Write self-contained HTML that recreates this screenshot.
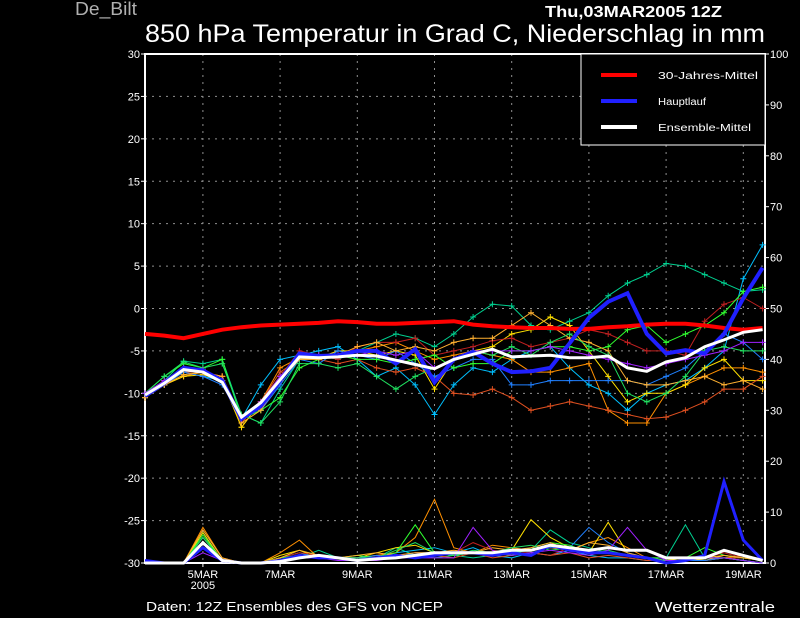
<!DOCTYPE html>
<html><head><meta charset="utf-8"><style>
html,body{margin:0;padding:0;background:#000;}
svg{display:block;font-family:"Liberation Sans",sans-serif;}
</style></head><body>
<svg id="chart" width="800" height="618" viewBox="0 0 800 618" xmlns="http://www.w3.org/2000/svg">
<rect x="0" y="0" width="800" height="618" fill="#000"/>
<text x="75" y="15" fill="#b0b0b0" font-size="18" textLength="62" lengthAdjust="spacingAndGlyphs">De_Bilt</text>
<text x="545" y="17" fill="#fff" font-size="16" font-weight="bold" textLength="177" lengthAdjust="spacingAndGlyphs">Thu,03MAR2005 12Z</text>
<text x="145" y="42" fill="#fff" font-size="25" textLength="620" lengthAdjust="spacingAndGlyphs">850 hPa Temperatur in Grad C, Niederschlag in mm</text>
<g id="grid"></g>
<g id="axes"></g>
<g id="series"></g>
<g id="legend">
<rect x="581" y="54" width="184" height="91" fill="#000" stroke="#fff" stroke-width="1"/>
<line x1="601" y1="75" x2="637" y2="75" stroke="#ff0000" stroke-width="4"/>
<text x="658" y="79" fill="#fff" font-size="10" textLength="100" lengthAdjust="spacingAndGlyphs">30-Jahres-Mittel</text>
<line x1="601" y1="101" x2="637" y2="101" stroke="#2020ff" stroke-width="4"/>
<text x="658" y="105" fill="#fff" font-size="10" textLength="48" lengthAdjust="spacingAndGlyphs">Hauptlauf</text>
<line x1="601" y1="127" x2="637" y2="127" stroke="#ffffff" stroke-width="4"/>
<text x="658" y="131" fill="#fff" font-size="10" textLength="93" lengthAdjust="spacingAndGlyphs">Ensemble-Mittel</text>
</g>
<text x="146" y="611" fill="#fff" font-size="13" textLength="297" lengthAdjust="spacingAndGlyphs">Daten: 12Z Ensembles des GFS von NCEP</text>
<text x="655" y="612" fill="#fff" font-size="15" textLength="120" lengthAdjust="spacingAndGlyphs">Wetterzentrale</text>
</svg>
<script>
const tempTicks=[30,25,20,15,10,5,0,-5,-10,-15,-20,-25,-30];
const precipTicks=[100,90,80,70,60,50,40,30,20,10,0];
const dateLabels=["5MAR","7MAR","9MAR","11MAR","13MAR","15MAR","17MAR","19MAR"];
const dateDays=[1.5,3.5,5.5,7.5,9.5,11.5,13.5,15.5];
const climTemp=[-3.0,-3.2,-3.5,-3.0,-2.5,-2.2,-2.0,-1.9,-1.8,-1.7,-1.5,-1.6,-1.8,-1.8,-1.7,-1.6,-1.5,-1.9,-2.1,-2.2,-2.3,-2.3,-2.4,-2.4,-2.2,-2.1,-1.9,-1.8,-1.8,-2.0,-2.3,-2.5,-2.3];
const meanTemp=[-10.2,-8.8,-7.2,-7.5,-8.7,-12.8,-11.1,-8.4,-5.7,-5.8,-5.7,-5.5,-5.6,-6.1,-6.6,-7.1,-6.0,-5.4,-4.8,-5.7,-5.6,-5.5,-5.8,-5.8,-5.6,-7.0,-7.4,-6.3,-5.8,-4.5,-3.7,-2.8,-2.5];
const mainTemp=[-10.3,-8.8,-7.0,-7.3,-8.5,-13.0,-11.5,-8.5,-5.3,-5.6,-5.5,-5.0,-5.0,-6.5,-4.8,-8.7,-6.0,-5.1,-6.5,-7.5,-7.4,-7.0,-4.1,-1.1,0.8,1.8,-3.0,-5.3,-4.9,-5.3,-3.0,1.2,4.8];
const meanPrecip=[0,0,0,4,0.5,0,0,0.3,1,1.5,1,0.5,0.8,1,1.5,2,2,2,2,2.5,2.5,3.5,3,2.5,3,2.5,2.5,1,1,1,2.5,1.5,0.5];
const mainPrecip=[0.5,0,0,3,0.5,0,0,0.5,1.5,1,1,0.5,1,1.5,1,1.5,2,2,1.5,2,1.5,3.5,2.5,2,2,1.5,1,0,0.5,1.5,16,4.5,0.5];
const memberColors=["#00d090","#00c0ff","#ff9000","#ffe000","#c02020","#e05020","#2080ff","#30ff30","#ffb030","#20e060","#a020ff"];
const m1T=[-10,-8.5,-6.2,-6.5,-6,-12.5,-13.5,-9.5,-6,-5.5,-6,-5,-4,-3,-3.5,-4.5,-3,-1,0.5,0.3,-2,-2.5,-1.5,-0.5,1.5,3,4,5.3,5,4,3,2,2.2];
const m1P=[0,0,0,6,0.5,0,0,0.5,1,2.5,1,0.5,1,3,1.5,1,1.5,1,1.5,2,2.5,6.5,4,3,2,1.5,1,1,7.5,1,1,0.5,0];
const m2T=[-10.5,-9,-7.5,-8,-8.5,-13,-9,-6,-5.5,-5,-4.5,-6,-8,-7,-9,-12.5,-9,-7,-7.5,-6,-5,-4.5,-7,-9,-10,-12,-10,-9,-8.5,-7,-5,3.5,7.5];
const m2P=[0,0,0,5,0.5,0,0,1,2,1,1,1,1,2,2.5,3,2,3,1.5,1,2,1.5,2.5,1.5,1,1,0.5,0.5,1,0.5,1,0.5,0];
const m3T=[-10.5,-9,-8,-7.5,-8,-14,-11,-7,-5.8,-6,-5.5,-5,-4.5,-4,-5,-6,-5.5,-5,-5.5,-6,-7.5,-7.5,-7,-6.5,-12,-13.5,-13.5,-10,-9,-8,-7,-7,-7.5];
const m3P=[0,0,0,7,1,0,0,2,4.5,1,1,1,1.5,2,5,12.5,3,2,3.5,3,2.5,3,2.5,4,5,3,1,0.5,0.5,0.5,1,1.5,0.5];
const m4T=[-10.5,-9,-8,-7.8,-8.5,-14,-11,-8,-6,-5.8,-5,-5,-5.5,-5,-5.5,-9.5,-6,-5,-4.5,-3,-2.5,-1,-2,-5,-8,-11,-10,-10,-9,-7,-6,-8.5,-8.5];
const m4P=[0,0,0,6,0.5,0,0,1.5,2.5,1,1,1,2,3,3.5,2,1.5,2,2,2.5,8.5,5,3,2,8,2,1,0.5,1,0.5,1.5,1,0.5];
const m5T=[-10,-8.5,-7,-7.5,-8,-13,-11.5,-8,-5,-5.5,-6,-4.5,-4,-4,-3.5,-5.5,-5,-4.5,-3.8,-3.5,-4.5,-4,-3.5,-2.5,-3,-4,-5,-5,-5.5,-1.5,0.5,1.3,0];
const m5P=[0,0,0,5,0.5,0,0,1,2,1.5,1,1,1,1.5,2,2,2,4,2.5,2,2,1.5,3,2,2,1.5,1,0.5,0.5,1,2,1,0.5];
const m6T=[-10.5,-8.5,-7.5,-7.5,-8,-13.5,-11,-7.5,-6,-6,-6.5,-6,-7,-7.5,-7,-8,-10,-10.2,-9.5,-10.5,-12,-11.5,-11,-11.5,-12,-12.5,-13,-12.8,-12,-11,-9.5,-9.5,-8];
const m6P=[0,0,0,4,0.5,0,0,0.5,1,1,1,0.5,1,1,1.5,1.5,1,2,1,1.5,2,1.5,2,1,1.5,1,0.5,0.5,0.5,0.5,1,1,0.5];
const m7T=[-10.5,-9,-7.5,-8,-9,-13,-12,-9,-6,-6.5,-5,-5.5,-6,-5,-6.5,-8,-7,-6,-6,-9,-9,-8.5,-8.5,-8.5,-8.5,-8.5,-9,-8,-7,-5,-3,-4,-6];
const m7P=[0,0,0,5,0.5,0,0,0.5,1,1,1,1,1.5,1,2,2,1.5,2,2,1.5,2,3,3,7,4,2,1,0.5,0.5,0.5,1,0.5,0];
const m8T=[-10,-8,-6.5,-7,-6,-13,-12,-10.5,-7,-6,-5.5,-6,-6,-6.5,-6,-5.5,-7,-6.5,-6.5,-5,-5,-4.5,-4.5,-5,-4.5,-2.5,-2,-4,-3,-2,-0.5,2,2.5];
const m8P=[0,0,0,5.5,0.5,0,0,1,1.5,1,1,1.5,1,2,7.5,2,1.5,2,2,1.5,3,4,3.5,2,2,1.5,1,1,1,3,1.5,1,0.5];
const m9T=[-10.5,-9,-7.8,-7.5,-8,-13.5,-12,-8.5,-6,-6,-5.5,-4.5,-4,-5,-4.5,-5,-4,-3.5,-3.5,-2,-0.5,-2,-3.5,-4,-5,-8.5,-9,-9,-8.5,-8,-9,-8.5,-9.5];
const m9P=[0,0,0,6.5,1,0,0,1,2.5,1.5,1,1.5,2,1.5,2,2,2.5,2,3,2.5,3,4,2.5,4,3.5,2,1,0.5,0.5,1,1.5,1,0.5];
const m10T=[-10,-8,-6.3,-7,-6.5,-12.5,-13.5,-11,-6.5,-6.5,-7,-6.5,-8,-9.5,-8,-7,-6,-5,-5.5,-4.5,-5.5,-4,-3,-4.5,-5.5,-10,-11,-10,-8,-5,-4.5,-5,-5];
const m10P=[0,0,0,5,0.5,0,0,0.5,1.5,1,1,1,1,2.5,4,2,1.5,2.5,2,3,3.5,2.5,3,2,2.5,1.5,1,0.5,0.5,1,1,0.5,0];
const m11T=[-10,-8.5,-7,-7.2,-8.5,-13,-11,-8,-5.5,-5.5,-5.5,-5.5,-5,-5.5,-5,-7,-6,-5,-5,-5,-5,-4.5,-5,-5.5,-6,-6.5,-7,-6.5,-6,-5.5,-5,-4,-4];
const m11P=[0,0,0,2,0.5,0,0,0.5,1,1,0.5,0.5,0.5,1,1,1,1,7,2.5,1.5,2,2.5,2,1.5,2.5,7,2.5,0.5,0.5,1,1,0.5,0];
const memberTemps=[m1T,m2T,m3T,m4T,m5T,m6T,m7T,m8T,m9T,m10T,m11T];
const memberPrecips=[m1P,m2P,m3P,m4P,m5P,m6P,m7P,m8P,m9P,m10P,m11P];

const NS="http://www.w3.org/2000/svg";
const X0=145,X1=765,Y0=54,Y1=563,DAYPX=38.6;
function xDay(d){return X0+d*DAYPX;}
function xIdx(i){return xDay(i*0.5);}
function yT(t){return Y1-(t+30)*(Y1-Y0)/60;}
function yP(p){return Y1-p*(Y1-Y0)/100;}
function mk(tag,attrs,parent){const e=document.createElementNS(NS,tag);for(const k in attrs)e.setAttribute(k,attrs[k]);parent.appendChild(e);return e;}
const grid=document.getElementById('grid'),axes=document.getElementById('axes'),series=document.getElementById('series');

tempTicks.forEach(t=>{
  const y=yT(t);
  if(t>-30&&t<30){const l=mk('line',{x1:X0,x2:X1,y1:y,y2:y,stroke:'#909090','stroke-width':1,'stroke-dasharray':'2,5'},grid);
  
  }
  const tk=mk('line',{x1:X0-4,x2:X0,y1:y,y2:y,stroke:'#fff','stroke-width':1},axes);
  
  
  const tx=mk('text',{x:X0-5,y:y+4,fill:'#fff','font-size':11,'text-anchor':'end'},axes);
  tx.textContent=String(t);
  
  
});
precipTicks.forEach(p=>{
  const y=yP(p);
  const tk=mk('line',{x1:X1,x2:X1+4,y1:y,y2:y,stroke:'#fff','stroke-width':1},axes);
  
  
  const tx=mk('text',{x:X1+5,y:y+4,fill:'#fff','font-size':11},axes);
  tx.textContent=String(p);
  
  
});
dateLabels.forEach((lab,i)=>{
  const x=xDay(dateDays[i]);
  const l=mk('line',{x1:x,x2:x,y1:Y0,y2:Y1,stroke:'#909090','stroke-width':1,'stroke-dasharray':'2,5'},grid);
  
  
  const tk=mk('line',{x1:x,x2:x,y1:Y1,y2:Y1+4,stroke:'#fff','stroke-width':1},axes);
  
  
  const tx=mk('text',{x:x,y:578,fill:'#fff','font-size':11,'text-anchor':'middle'},axes);
  tx.textContent=lab;
  
  
});
const yr=mk('text',{x:xDay(dateDays[0]),y:589,fill:'#fff','font-size':11,'text-anchor':'middle'},axes);
yr.textContent='2005';


const frame=mk('rect',{x:X0,y:Y0,width:X1-X0,height:Y1-Y0,fill:'none',stroke:'#fff','stroke-width':2},axes);



function pts(arr,yf){return arr.map((v,i)=>xIdx(i).toFixed(1)+','+yf(v).toFixed(1)).join(' ');}
memberTemps.forEach((arr,m)=>{
  const c=memberColors[m];
  const pl=mk('polyline',{points:pts(memberPrecips[m],yP),fill:'none',stroke:c,'stroke-width':1},series);
  
  
  const l=mk('polyline',{points:pts(arr,yT),fill:'none',stroke:c,'stroke-width':1},series);
  
  
  let d='';
  arr.forEach((v,i)=>{const x=xIdx(i),y=yT(v);d+='M'+(x-3)+','+y+'h6M'+x+','+(y-3)+'v6';});
  const p=mk('path',{d:d,stroke:c,'stroke-width':1,fill:'none'},series);
  
  
});
const cl=mk('polyline',{points:pts(climTemp,yT),fill:'none',stroke:'#ff0000','stroke-width':4},series);


const mp=mk('polyline',{points:pts(mainPrecip,yP),fill:'none',stroke:'#2020ff','stroke-width':3},series);


const ml=mk('polyline',{points:pts(mainTemp,yT),fill:'none',stroke:'#2020ff','stroke-width':4},series);


const ep=mk('polyline',{points:pts(meanPrecip,yP),fill:'none',stroke:'#ffffff','stroke-width':3},series);


const el=mk('polyline',{points:pts(meanTemp,yT),fill:'none',stroke:'#ffffff','stroke-width':3},series);


</script>
</body></html>
